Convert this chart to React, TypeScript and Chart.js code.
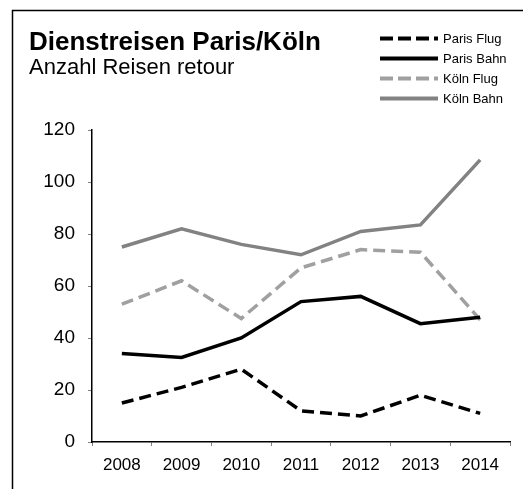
import React, { useEffect, useRef } from "react";
import { Chart, registerables } from "chart.js";

Chart.register(...registerables);

const years = ["2008", "2009", "2010", "2011", "2012", "2013", "2014"];
const parisFlug = [15, 21, 28, 12, 10, 18, 11];
const parisBahn = [34, 32.5, 40, 54, 56, 45.5, 48];
const koelnFlug = [53, 62, 47.5, 67, 74, 73, 47];
const koelnBahn = [75, 82, 76, 72, 81, 83.5, 108.5];
const seriesNames = ["Paris Flug", "Paris Bahn", "Köln Flug", "Köln Bahn"];
const yTicksMin = 0;
const yTicksMax = 120;
const yStep = 20;
const titleText = "Dienstreisen Paris/Köln";
const subtitleText = "Anzahl Reisen retour";

const FONT = "'Liberation Sans', Arial, sans-serif";

const decorPlugin = {
  id: "decor",
  beforeDraw(chart: any) {
    const ctx = chart.ctx;
    ctx.save();
    ctx.fillStyle = "#ffffff";
    ctx.fillRect(0, 0, chart.width, chart.height);
    ctx.strokeStyle = "#000";
    ctx.lineWidth = 1.5;
    ctx.strokeRect(12.5, 10.5, 700, 700);
    ctx.fillStyle = "#000";
    ctx.textBaseline = "alphabetic";
    ctx.textAlign = "left";
    ctx.font = `bold 26px ${FONT}`;
    ctx.fillText(titleText, 29, 50);
    ctx.font = `22px ${FONT}`;
    ctx.fillText(subtitleText, 29, 74);
    ctx.restore();
  },
  afterDraw(chart: any) {
    const ctx = chart.ctx;
    ctx.save();
    chart.data.datasets.forEach((ds: any, i: number) => {
      const y = 38.5 + i * 20;
      ctx.beginPath();
      ctx.strokeStyle = ds.borderColor;
      ctx.lineWidth = 4;
      ctx.lineCap = "butt";
      ctx.setLineDash(ds.borderDash && ds.borderDash.length ? [13, 5] : []);
      ctx.moveTo(380, y);
      ctx.lineTo(438, y);
      ctx.stroke();
      ctx.setLineDash([]);
      ctx.fillStyle = "#000";
      ctx.font = `13px ${FONT}`;
      ctx.textBaseline = "middle";
      ctx.textAlign = "left";
      ctx.fillText(ds.label, 443, y + 1);
    });
    ctx.restore();
  },
};

export default function App() {
  const ref = useRef<HTMLCanvasElement>(null);
  useEffect(() => {
    const canvas = ref.current!;
    const mk = (label: string, data: number[], color: string, dashed: boolean) => ({
      label,
      data,
      borderColor: color,
      backgroundColor: color,
      borderWidth: 3.5,
      borderDash: dashed ? [12, 6] : [],
      pointRadius: 0,
      tension: 0,
      fill: false,
    });
    const chart = new Chart(canvas, {
      type: "line",
      data: {
        labels: years,
        datasets: [
          mk(seriesNames[0], parisFlug, "#000000", true),
          mk(seriesNames[1], parisBahn, "#000000", false),
          mk(seriesNames[2], koelnFlug, "#a0a0a0", true),
          mk(seriesNames[3], koelnBahn, "#828282", false),
        ],
      },
      options: {
        animation: false,
        responsive: false,
        maintainAspectRatio: false,
        layout: { padding: { left: 12, top: 130, right: 13, bottom: 0 } },
        plugins: { legend: { display: false }, tooltip: { enabled: false }, title: { display: false } },
        scales: {
          x: {
            type: "category",
            offset: true,
            afterFit: (axis: any) => {
              axis.height = 47;
            },
            grid: {
              display: true,
              drawOnChartArea: false,
              drawTicks: true,
              tickLength: 4,
              color: "#808080",
              offset: true,
            },
            border: { display: true, color: "#000", width: 1.5 },
            ticks: { font: { family: FONT, size: 17 }, color: "#000", padding: 9, maxRotation: 0 },
          },
          y: {
            min: yTicksMin,
            max: yTicksMax,
            afterFit: (axis: any) => {
              axis.width = 80;
            },
            grid: {
              display: true,
              drawOnChartArea: false,
              drawTicks: true,
              tickLength: 4,
              color: "#808080",
            },
            border: { display: true, color: "#000", width: 1.5 },
            ticks: { stepSize: yStep, font: { family: FONT, size: 19 }, color: "#000", padding: 13 },
          },
        },
      },
      plugins: [decorPlugin],
    });
    return () => chart.destroy();
  }, []);
  return (
    <div style={{ position: "absolute", left: 0, top: 0, width: 523, height: 489 }}>
      <canvas ref={ref} width={523} height={489} style={{ display: "block" }} />
    </div>
  );
}
